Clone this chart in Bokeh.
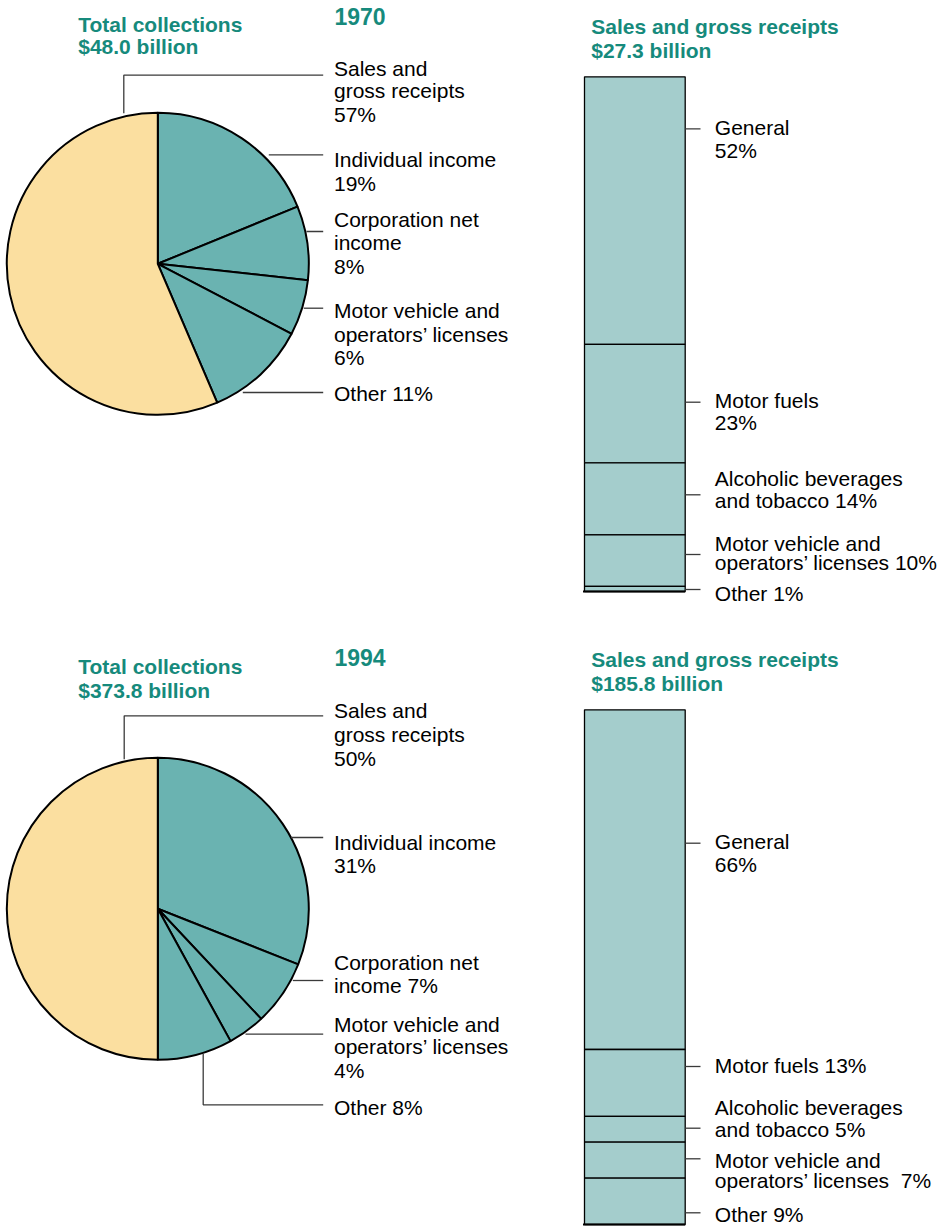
import numpy as np
from bokeh.plotting import figure
from bokeh.models import Range1d
from bokeh.core.properties import value
from bokeh.embed import file_html
from bokeh.resources import INLINE

# ---------------- data ----------------
years = ["1970", "1994"]
total_collections = ["$48.0 billion", "$373.8 billion"]
sales_totals = ["$27.3 billion", "$185.8 billion"]

pie_categories = ["Individual income", "Corporation net income",
                  "Motor vehicle and operators’ licenses", "Other",
                  "Sales and gross receipts"]
pie_1970 = [19, 8, 6, 11, 57]
pie_1994 = [31, 7, 4, 8, 50]

bar_categories = ["General", "Motor fuels", "Alcoholic beverages and tobacco",
                  "Motor vehicle and operators’ licenses", "Other"]
bar_1970 = [52, 23, 14, 10, 1]
bar_1994 = [66, 13, 5, 7, 9]

# ---------------- layout / style ----------------
W, H = 950, 1227
PAGE_H = 1227
FONT = "Liberation Sans"
TITLE_COLOR = "#168a7c"
PIE_TEAL = "#6ab3b1"
PIE_WHEAT = "#fbdfa0"
BAR_FILL = "#a4cdcc"
LEADER = "#3a3a3a"
R = 151
TEXT_DY = -8   # correction of the rendered baseline


def Y(py):
    return PAGE_H - py


p = figure(width=W, height=H, x_range=Range1d(0, W),
           y_range=Range1d(PAGE_H - H, PAGE_H),
           output_backend="svg", toolbar_location=None, min_border=0,
           x_axis_location=None, y_axis_location=None)
p.grid.visible = False
p.outline_line_color = None
p.background_fill_color = "white"
p.border_fill_color = "white"


def text(xs, pys, strs, size="21px", bold=False, color="black"):
    p.text(x=list(xs), y=[Y(v + TEXT_DY) for v in pys], text=list(strs),
           text_font=value(FONT), text_font_size=size,
           text_font_style="bold" if bold else "normal",
           text_color=color, text_align="left", text_baseline="alphabetic")


def leader(pts):
    p.line(x=[a for a, b in pts], y=[Y(b) for a, b in pts],
           line_color=LEADER, line_width=1.3)


panels = [
    dict(
        pie=pie_1970, bar=bar_1970, year=years[0], total=total_collections[0],
        sales=sales_totals[0],
        cy=263.3, year_y=24, tot_y=(32.3, 54.3), sales_y=(34.3, 57.7),
        bar_top=76.3, bar_bot=591,
        pie_lines=[["Individual income", "{}%"], ["Corporation net", "income", "{}%"],
                   ["Motor vehicle and", "operators’ licenses", "{}%"], ["Other {}%"],
                   ["Sales and", "gross receipts", "{}%"]],
        pie_bl=[[166.7, 190.7], [226.7, 250, 274], [318.3, 341.7, 365], [400.7],
                [76, 98.3, 122]],
        pie_leaders=[[(268.3, 154.3), (322.7, 154.3)], [(306, 231), (322.7, 231)],
                     [(303.3, 307.7), (322.7, 307.7)], [(242.3, 392), (322.7, 392)],
                     [(123.3, 112.7), (123.3, 74.7), (322.7, 74.7)]],
        bar_lines=[["General", "{}%"], ["Motor fuels", "{}%"],
                   ["Alcoholic beverages", "and tobacco {}%"],
                   ["Motor vehicle and", "operators’ licenses {}%"], ["Other {}%"]],
        bar_bl=[[135, 157.7], [408.3, 430], [486, 508.3], [550.5, 569.5], [600.7]],
        bar_ticks=[128.3, 401.7, 494.3, 554, 589],
    ),
    dict(
        pie=pie_1994, bar=bar_1994, year=years[1], total=total_collections[1],
        sales=sales_totals[1],
        cy=908.3, year_y=665, tot_y=(674.3, 698.3), sales_y=(666.7, 690.7),
        bar_top=709.3, bar_bot=1224,
        pie_lines=[["Individual income", "{}%"], ["Corporation net", "income {}%"],
                   ["Motor vehicle and", "operators’ licenses", "{}%"], ["Other {}%"],
                   ["Sales and", "gross receipts", "{}%"]],
        pie_bl=[[850, 872.7], [970, 993.3], [1031.7, 1054.3, 1077.7], [1115],
                [718.3, 741.7, 765.7]],
        pie_leaders=[[(290.5, 837), (322.7, 837)], [(292.3, 980), (322.7, 980)],
                     [(245, 1033.7), (322.7, 1033.7)],
                     [(202.7, 1053.3), (202.7, 1104.3), (322.7, 1104.3)],
                     [(123.7, 758.7), (123.7, 715.3), (322.7, 715.3)]],
        bar_lines=[["General", "{}%"], ["Motor fuels {}%"],
                   ["Alcoholic beverages", "and tobacco {}%"],
                   ["Motor vehicle and", "operators’ licenses\u00a0 {}%"], ["Other {}%"]],
        bar_bl=[[849.3, 872], [1073.3], [1115, 1136.7], [1167.7, 1188.3], [1221.5]],
        bar_ticks=[842.7, 1066, 1127.7, 1158.3, 1212.3],
    ),
]

CX = 157.3
PIE_LBL_X = 333.5
BAR_L, BAR_R = 584, 684.7
BAR_LBL_X = 714.3

for pn in panels:
    # ---- titles ----
    text([77.7, 77.7], pn["tot_y"], ["Total collections", pn["total"]],
         bold=True, color=TITLE_COLOR)
    text([334], [pn["year_y"]], [pn["year"]], size="23px", bold=True, color=TITLE_COLOR)
    text([590.7, 590.7], pn["sales_y"], ["Sales and gross receipts", pn["sales"]],
         bold=True, color=TITLE_COLOR)

    # ---- pie ----
    v = np.array(pn["pie"], dtype=float)
    frac = v / v.sum()
    cum = np.concatenate([[0.0], np.cumsum(frac)])
    start = np.pi / 2 - 2 * np.pi * cum[1:]
    end = np.pi / 2 - 2 * np.pi * cum[:-1]
    n = len(v)
    colors = [PIE_TEAL] * (n - 1) + [PIE_WHEAT]
    p.wedge(x=[CX] * n, y=[Y(pn["cy"])] * n, radius=R,
            start_angle=list(start), end_angle=list(end),
            fill_color=colors, line_color="black", line_width=2)

    for lines, bls, ld, val in zip(pn["pie_lines"], pn["pie_bl"], pn["pie_leaders"], pn["pie"]):
        leader(ld)
        text([PIE_LBL_X] * len(lines), bls, [s.format(val) for s in lines])

    # ---- stacked bar ----
    b = np.array(pn["bar"], dtype=float)
    scale = (pn["bar_bot"] - pn["bar_top"]) / b.sum()
    bcum = np.concatenate([[0.0], np.cumsum(b)])
    tops = [Y(pn["bar_top"] + c * scale) for c in bcum[:-1]]
    bots = [Y(pn["bar_top"] + c * scale) for c in bcum[1:]]
    p.quad(left=[BAR_L] * len(b), right=[BAR_R] * len(b), top=tops, bottom=bots,
           fill_color=BAR_FILL, line_color="black", line_width=1.3)
    p.line(x=[BAR_L - 1.5, BAR_R], y=[Y(pn["bar_bot"])] * 2, line_color="black", line_width=2)

    for lines, bls, ty, val in zip(pn["bar_lines"], pn["bar_bl"], pn["bar_ticks"], pn["bar"]):
        leader([(BAR_R, ty), (700, ty)])
        text([BAR_LBL_X] * len(lines), bls, [s.format(val) for s in lines])

open("out.html", "w").write(file_html(p, INLINE))
